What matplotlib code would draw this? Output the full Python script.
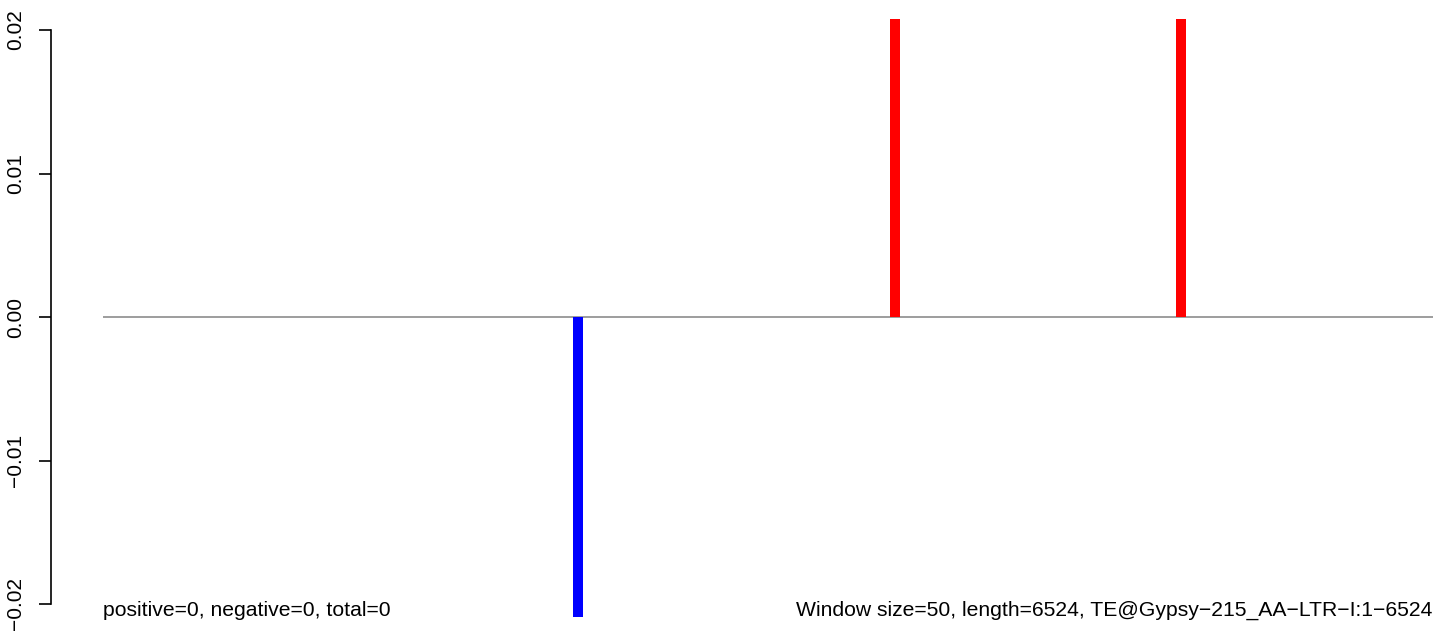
import numpy as np
import matplotlib.pyplot as plt

plt.rcParams['font.family'] = ['Liberation Sans', 'DejaVu Sans']

seq_len = 6524
win = 50
# window start positions and values
starts = [2305, 3860, 5263]
values = [-0.0209, 0.0208, 0.0208]
colors = ['blue', 'red', 'red']
yticks = [-0.02, -0.01, 0.0, 0.01, 0.02]
ytick_labels = ['-0.02', '-0.01', '0.00', '0.01', '0.02']
left_note = 'positive=0, negative=0, total=0'
right_note = 'Window size=50, length=6524, TE@Gypsy\u2212215_AA\u2212LTR\u2212I:1\u22126524'

W, H = 1433, 634
fig = plt.figure(figsize=(W / 100, H / 100), dpi=100)
ax = fig.add_axes([103 / W, 0, 1330 / W, 1])

half = 0.02 + 30 / 14350
ax.set_ylim(-half, half)
ax.set_xlim(0, seq_len)

ax.axhline(0, color='#8c8c8c', lw=1.2, zorder=1)
ax.bar(starts, values, width=win, align='edge', color=colors, zorder=2)

for s in ['top', 'right', 'bottom']:
    ax.spines[s].set_visible(False)
ax.spines['left'].set_position(('outward', 37.5))
ax.spines['left'].set_bounds(-0.02, 0.02)
ax.spines['left'].set_linewidth(1.2)
ax.set_xticks([])
ax.set_yticks(yticks)
ax.set_yticklabels([t.replace('-', '\u2212') for t in ytick_labels],
                   rotation=90, va='center', fontsize=15)
ax.tick_params(axis='y', length=8.6, width=1.2, pad=10)

fig.text(103 / W, 1 - 616 / H, left_note, ha='left', va='baseline', fontsize=15.2)
fig.text(1432 / W, 1 - 616 / H, right_note, ha='right', va='baseline', fontsize=15.2)

fig.savefig('out.png', dpi=100)
